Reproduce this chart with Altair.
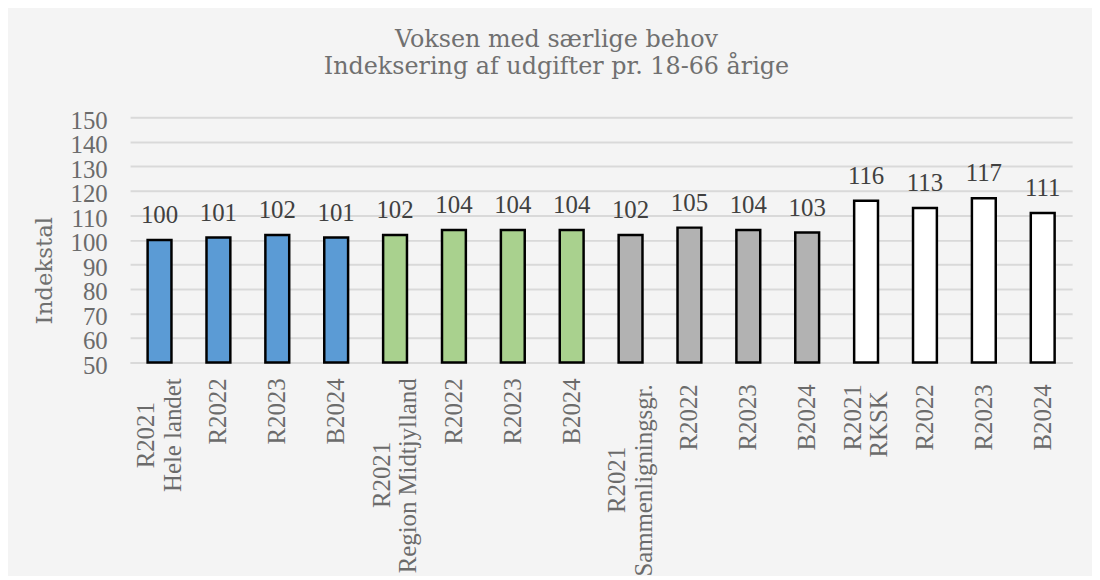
import altair as alt
import pandas as pd

# ---- data ----
groups = ["Hele landet", "Region Midtjylland", "Sammenligningsgr.", "RKSK"]
periods = ["R2021", "R2022", "R2023", "B2024"]
values = [100, 101, 102, 101,
          102, 104, 104, 104,
          102, 105, 104, 103,
          116, 113, 117, 111]
group_colors = ["#5B9BD5", "#A9D18E", "#B2B2B2", "#FFFFFF"]
title_lines = ["Voksen med særlige behov", "Indeksering af udgifter pr. 18-66 årige"]
y_title = "Indekstal"
y_ticks = [50, 60, 70, 80, 90, 100, 110, 120, 130, 140, 150]

# ---- styling ----
LABEL_FONT = "Liberation Serif"
TITLE_FONT = "DejaVu Serif"
LABEL_GRAY = "#6B6B6B"
TITLE_GRAY = "#707070"
GRID = "#D9D9D9"
# distance (px) from the axis line to the end of each label line, per group:
# (single period labels, first-period line, group-name line)
label_gap = {"Hele landet": (16, 40, 16),
             "Region Midtjylland": (16, 80, 16),
             "Sammenligningsgr.": (22, 85, 22),
             "RKSK": (22, 22, 29)}
LINE_SHIFT = 13.5

rows, lab_rows = [], []
for gi, g in enumerate(groups):
    single, first_gap, group_gap = label_gap[g]
    for pi, p in enumerate(periods):
        i = gi * len(periods) + pi
        rows.append({"idx": i, "group": g, "period": p, "value": values[i]})
        if pi == 0:
            lab_rows.append({"idx": i, "label": p, "off": first_gap, "shift": -LINE_SHIFT})
            lab_rows.append({"idx": i, "label": g, "off": group_gap, "shift": LINE_SHIFT})
        else:
            lab_rows.append({"idx": i, "label": p, "off": single, "shift": 0})
df = pd.DataFrame(rows)
lab_df = pd.DataFrame(lab_rows)

x_scale = alt.Scale(paddingInner=0.595, paddingOuter=0.2975)
y_scale = alt.Scale(domain=[50, 150], zero=False, nice=False)

x_axis = alt.Axis(title=None, labels=False, ticks=False,
                  domainColor=GRID, domainWidth=2)
y_axis = alt.Axis(
    values=y_ticks, tickCount=11, title=y_title, titleFont=TITLE_FONT, titleFontSize=23,
    titleFontWeight="normal", titleColor=TITLE_GRAY, titleX=-86, titleY=154,
    titleAlign="center", titleBaseline="middle",
    domain=False, ticks=False, grid=True, gridColor=GRID, gridWidth=2,
    labelFont=LABEL_FONT, labelFontSize=25, labelColor=LABEL_GRAY,
    labelPadding=23, labelOffset=3, labelOverlap=False,
)

x = alt.X("idx:O", sort=None, scale=x_scale, axis=x_axis)
y = alt.Y("value:Q", scale=y_scale, axis=y_axis)

bars = alt.Chart(df).mark_bar(stroke="black", strokeWidth=2.5).encode(
    x=x, y=y, y2=alt.datum(50),
    color=alt.Color("group:N", scale=alt.Scale(domain=groups, range=group_colors), legend=None),
)
values_text = alt.Chart(df).mark_text(
    dy=-17, baseline="alphabetic", font=LABEL_FONT, fontSize=25, color="#404040",
).encode(
    x=x, y=y, text=alt.Text("value:Q"),
)
x_labels = alt.Chart(lab_df).mark_text(
    angle=270, align="right", baseline="middle", font=LABEL_FONT, fontSize=25,
    color=LABEL_GRAY, dx=alt.ExprRef("-datum.off"), dy=alt.ExprRef("datum.shift"),
).encode(
    x=x, y=alt.YDatum(50, type="quantitative", scale=y_scale, axis=y_axis), text="label:N",
)

chart = alt.layer(bars, values_text, x_labels).properties(
    width=949, height=247,
    autosize=alt.AutoSizeParams(type="none"),
    padding={"left": 123, "top": 108, "right": 20, "bottom": 213},
    background="#F4F4F4",
    title=alt.TitleParams(
        text=title_lines, font=TITLE_FONT, fontSize=24, fontWeight="normal",
        color=TITLE_GRAY, anchor="middle", frame="group", dx=-45, offset=30,
        lineHeight=27,
    ),
).configure_view(stroke=None)

chart.save("out.html", embed_options={"renderer": "svg", "actions": False})
